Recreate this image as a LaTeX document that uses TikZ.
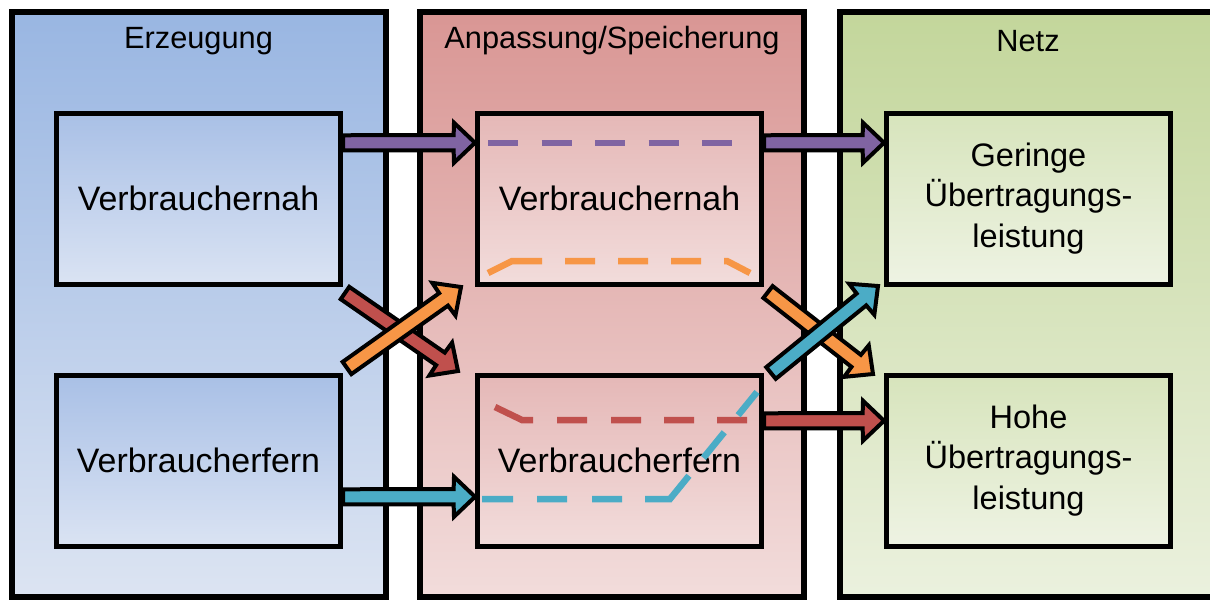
\documentclass[tikz,border=0pt]{standalone}
\usepackage{fontspec}
\setmainfont{Liberation Sans}
\usepackage{tikz}
\usetikzlibrary{matrix,calc,backgrounds}
\definecolor{erzTop}{HTML}{99B6E2}
\definecolor{erzBot}{HTML}{DCE4F2}
\definecolor{erzCellTop}{HTML}{A9C0E6}
\definecolor{erzCellBot}{HTML}{DAE3F3}
\definecolor{anpTop}{HTML}{D99694}
\definecolor{anpBot}{HTML}{F2DCDB}
\definecolor{anpCellTop}{HTML}{E5B8B7}
\definecolor{anpCellBot}{HTML}{F2DCDB}
\definecolor{netzTop}{HTML}{C3D69B}
\definecolor{netzBot}{HTML}{EBF1DE}
\definecolor{netzCellTop}{HTML}{D7E4BC}
\definecolor{netzCellBot}{HTML}{EEF3E3}
\definecolor{arrPurple}{HTML}{8064A2}
\definecolor{arrOrange}{HTML}{F79646}
\definecolor{arrRed}{HTML}{C0504D}
\definecolor{arrCyan}{HTML}{4BACC6}

\begin{document}
\begin{tikzpicture}[x=0.2mm, y=-0.2mm,
		panel/.style={draw=black, line width=0.12cm},
		cell/.style={draw=black, line width=0.1cm, minimum width=5.68cm, minimum height=3.41cm, anchor=center, font=\fontsize{19.3}{23}\selectfont},
		title/.style={font=\fontsize{17.5}{21}\selectfont},
		blockarrow/.style={draw=black, line width=0.08cm, line join=miter, fill=#1,
			to path={($(\tikztostart)!0.15cm!90:(\tikztotarget)$) -- ($(\tikztotarget)!0.4537cm!-19.65:(\tikztostart)$) -- ($(\tikztotarget)!0.58cm!-43.6:(\tikztostart)$) -- (\tikztotarget) -- ($(\tikztotarget)!0.58cm!43.6:(\tikztostart)$) -- ($(\tikztotarget)!0.4537cm!19.65:(\tikztostart)$) -- ($(\tikztostart)!0.15cm!-90:(\tikztotarget)$) -- cycle}},
		trace/.style={line width=0.13cm}]

		\useasboundingbox (0,0) rectangle (1210,599);

		\matrix (m) [matrix of nodes, nodes={cell}, column sep=2.4cm, row sep=1.73cm,
			column 1/.style={nodes={top color=erzCellTop, bottom color=erzCellBot}},
			column 2/.style={nodes={top color=anpCellTop, bottom color=anpCellBot}},
			column 3/.style={nodes={top color=netzCellTop, bottom color=netzCellBot, font=\fontsize{18.5}{23}\selectfont}}] at (613.5,329.75)
		{
			Verbrauchernah &[0.24cm] Verbrauchernah & \begin{tabular}{@{}c@{}}Geringe\tabularnewline Übertragungs-\tabularnewline leistung\end{tabular} \\
			Verbraucherfern & Verbraucherfern & \begin{tabular}{@{}c@{}}Hohe\tabularnewline Übertragungs-\tabularnewline leistung\end{tabular} \\
		};

		\begin{scope}[on background layer]
			\path[panel, top color=erzTop, bottom color=erzBot] (11.5,12) rectangle (385.5,597);
			\path[panel, top color=anpTop, bottom color=anpBot] (419.5,12) rectangle (804,597);
			\path[panel, top color=netzTop, bottom color=netzBot] (840,12) rectangle (1240,597);
		\end{scope}
		\node[title] (tErz) at (198.5,41) {Erzeugung};
		\node[title] (tAnp) at (612,41) {Anpassung/Speicherung};
		\node[title] (tNetz) at (1028,41) {Netz};

		\coordinate (vnOut) at ($(m-1-1.east)+(0,-56)$);
		\coordinate (vnIn) at ($(m-1-2.west)+(0,-56)$);
		\coordinate (snOut) at ($(m-1-2.east)+(0,-56)$);
		\coordinate (gerIn) at ($(m-1-3.west)+(0,-56)$);
		\coordinate (vfOut) at ($(m-2-1.east)+(0,36)$);
		\coordinate (vfIn) at ($(m-2-2.west)+(0,36)$);
		\coordinate (sfOut) at ($(m-2-2.east)+(0,-40)$);
		\coordinate (hohIn) at ($(m-2-3.west)+(0,-40)$);
		% Kreuzungen
		\coordinate (kRa) at (345,293);
		\coordinate (kRb) at (458,371);
		\coordinate (kOa) at (347,368);
		\coordinate (kOb) at (461,287);
		\coordinate (kNOa) at (768,292);
		\coordinate (kNOb) at (873,374);
		\coordinate (kNCa) at (771,373);
		\coordinate (kNCb) at (878,286);

		\path
		(vnOut) edge[blockarrow=arrPurple] (vnIn)
		(vfOut) edge[blockarrow=arrCyan] (vfIn)
		(kRa) edge[blockarrow=arrRed] (kRb)
		(kOa) edge[blockarrow=arrOrange] (kOb)
		(snOut) edge[blockarrow=arrPurple] (gerIn)
		(sfOut) edge[blockarrow=arrRed] (hohIn)
		(kNOa) edge[blockarrow=arrOrange] (kNOb)
		(kNCa) edge[blockarrow=arrCyan] (kNCb)
		;

		\draw[trace, arrPurple, dash pattern=on 0.6cm off 0.47cm] (488,143) -- (735,143);
		\draw[trace, arrOrange, dash pattern=on 1.14cm off 0.46cm on 0.6cm off 0.46cm on 0.6cm off 0.46cm on 0.6cm off 0.46cm on 0.6cm off 2cm] (488,273) -- (512,261) -- (727,261) -- (750,273);
		\draw[trace, arrRed, dash pattern=on 0.82cm off 0.48cm on 0.6cm off 0.48cm on 0.6cm off 0.46cm on 0.6cm off 0.46cm on 0.6cm off 2cm] (495,407) -- (522,420) -- (748,420);
		\draw[trace, arrCyan, dash pattern=on 0.62cm off 0.48cm on 0.6cm off 0.5cm on 0.6cm off 0.46cm on 1.1cm off 0.46cm on 0.66cm off 0.44cm on 0.66cm off 2cm] (482,499) -- (670,499) -- (757,392);
	\end{tikzpicture}
\end{document}
